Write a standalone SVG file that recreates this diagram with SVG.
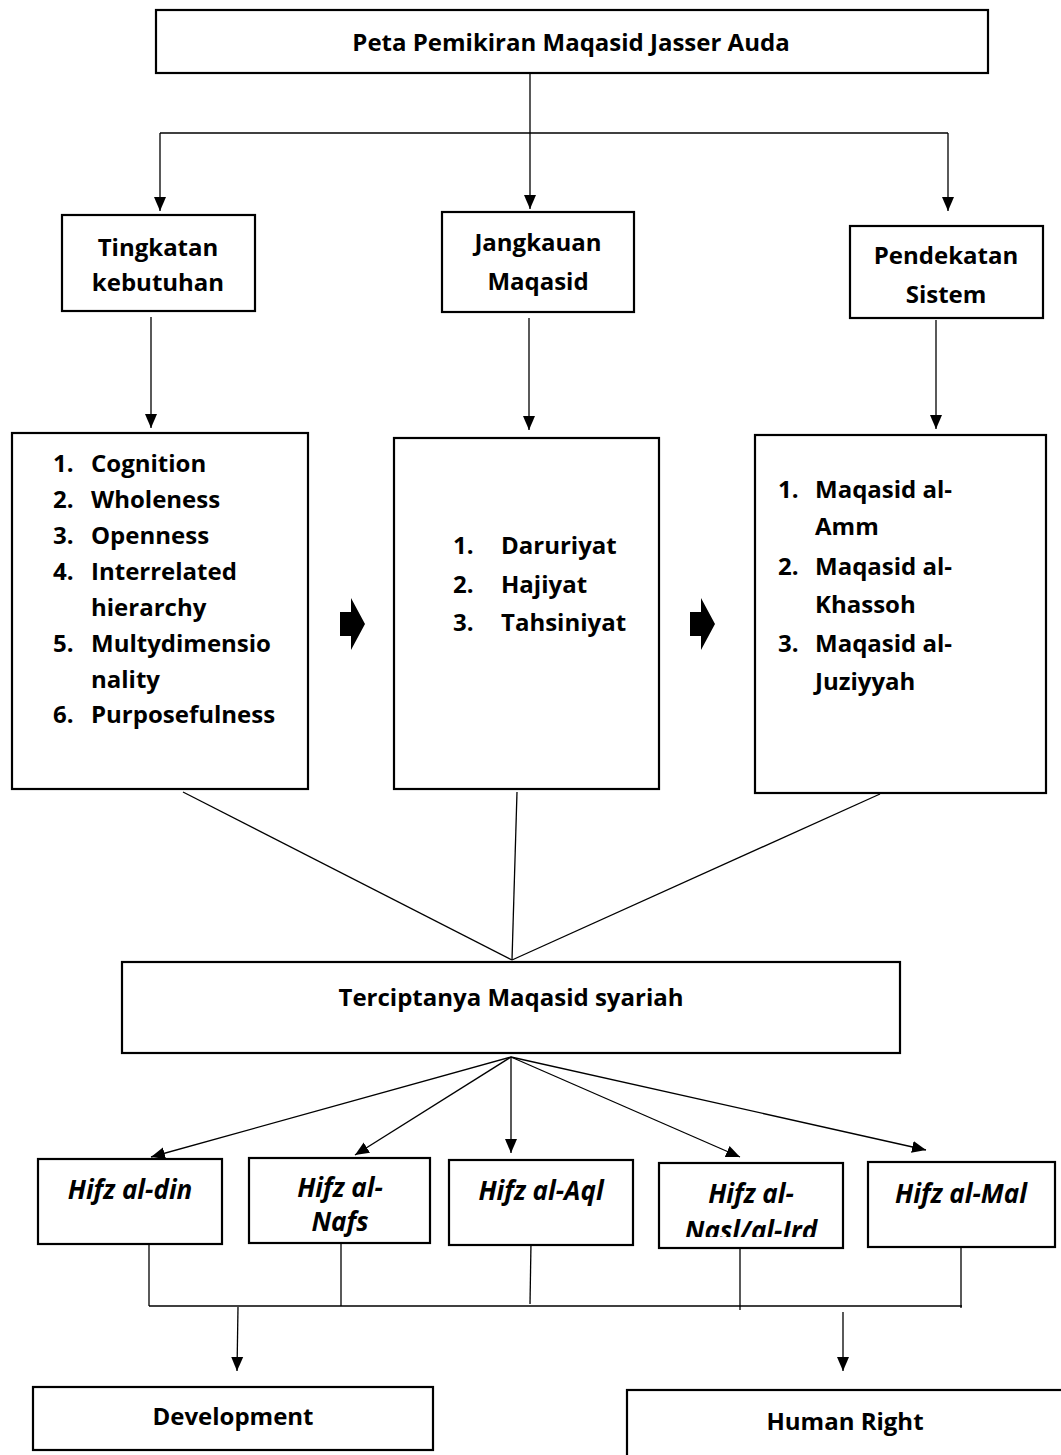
<svg xmlns="http://www.w3.org/2000/svg" width="1061" height="1455" viewBox="0 0 1061 1455">
<style>
.box{fill:#fff;stroke:#000;stroke-width:2.2}
.ln{stroke:#000;stroke-width:1.3;fill:none}
.t{font-family:"Open Sans","Liberation Sans",sans-serif;font-weight:bold;font-size:24px;fill:#000}
.c{text-anchor:middle}
.i{font-style:italic;font-size:26px}
</style>
<defs>
<marker id="ah" markerUnits="userSpaceOnUse" markerWidth="14" markerHeight="14" viewBox="0 0 14 14" refX="14" refY="7" orient="auto">
<path d="M0,1 L14,7 L0,13 Z" fill="#000"/>
</marker>
<clipPath id="cp"><rect x="659" y="1163" width="184" height="74"/></clipPath>
</defs>
<g id="connectors">
<polyline class="ln" points="530,73 530,133"/>
<polyline class="ln" points="160,133 948,133"/>
<line class="ln" x1="160" y1="133" x2="160" y2="211" marker-end="url(#ah)"/>
<line class="ln" x1="530" y1="133" x2="530" y2="209" marker-end="url(#ah)"/>
<line class="ln" x1="948" y1="133" x2="948" y2="211" marker-end="url(#ah)"/>
<line class="ln" x1="151" y1="317" x2="151" y2="428" marker-end="url(#ah)"/>
<line class="ln" x1="529" y1="318" x2="529" y2="430" marker-end="url(#ah)"/>
<line class="ln" x1="936" y1="320" x2="936" y2="429" marker-end="url(#ah)"/>
<path d="M340,612 H351 V598 L365,624 L351,650 V636 H340 Z" fill="#000"/>
<path d="M690,612 H701 V598 L715,624 L701,650 V636 H690 Z" fill="#000"/>
<line class="ln" x1="183" y1="792" x2="512" y2="960"/>
<line class="ln" x1="517" y1="792" x2="512" y2="960"/>
<line class="ln" x1="880" y1="794" x2="512" y2="960"/>
<line class="ln" x1="511" y1="1057" x2="151" y2="1157" marker-end="url(#ah)"/>
<line class="ln" x1="511" y1="1057" x2="355" y2="1155" marker-end="url(#ah)"/>
<line class="ln" x1="511" y1="1057" x2="511" y2="1153" marker-end="url(#ah)"/>
<line class="ln" x1="511" y1="1057" x2="740" y2="1157" marker-end="url(#ah)"/>
<line class="ln" x1="511" y1="1057" x2="926" y2="1150" marker-end="url(#ah)"/>
<line class="ln" x1="149" y1="1244" x2="149" y2="1306"/>
<line class="ln" x1="341" y1="1243" x2="341" y2="1306"/>
<line class="ln" x1="531" y1="1243" x2="530" y2="1304"/>
<line class="ln" x1="740" y1="1248" x2="740" y2="1310"/>
<line class="ln" x1="961" y1="1247" x2="961" y2="1308"/>
<line class="ln" x1="149" y1="1306" x2="962" y2="1306"/>
<line class="ln" x1="238" y1="1307" x2="237" y2="1371" marker-end="url(#ah)"/>
<line class="ln" x1="843" y1="1312" x2="843" y2="1371" marker-end="url(#ah)"/>
</g>
<g id="n-top"><rect class="box" x="156" y="10" width="832" height="63"/><text class="t c" x="571" y="51">Peta Pemikiran Maqasid Jasser Auda</text></g>
<g id="n-tingkatan"><rect class="box" x="62" y="215" width="193" height="96"/><text class="t c" x="158" y="256">Tingkatan</text><text class="t c" x="158" y="291">kebutuhan</text></g>
<g id="n-jangkauan"><rect class="box" x="442" y="212" width="192" height="100"/><text class="t c" x="538" y="251">Jangkauan</text><text class="t c" x="538" y="290">Maqasid</text></g>
<g id="n-pendekatan"><rect class="box" x="850" y="226" width="193" height="92"/><text class="t c" x="946" y="264">Pendekatan</text><text class="t c" x="946" y="303">Sistem</text></g>
<g id="n-list1"><rect class="box" x="12" y="433" width="296" height="356"/>
<text class="t" x="53" y="472">1.</text><text class="t" x="91" y="472">Cognition</text>
<text class="t" x="53" y="508">2.</text><text class="t" x="91" y="508">Wholeness</text>
<text class="t" x="53" y="544">3.</text><text class="t" x="91" y="544">Openness</text>
<text class="t" x="53" y="580">4.</text><text class="t" x="91" y="580">Interrelated</text>
<text class="t" x="91" y="616">hierarchy</text>
<text class="t" x="53" y="652">5.</text><text class="t" x="91" y="652">Multydimensio</text>
<text class="t" x="91" y="688">nality</text>
<text class="t" x="53" y="723">6.</text><text class="t" x="91" y="723">Purposefulness</text>
</g>
<g id="n-list2"><rect class="box" x="394" y="438" width="265" height="351"/>
<text class="t" x="453" y="554">1.</text><text class="t" x="501" y="554">Daruriyat</text>
<text class="t" x="453" y="593">2.</text><text class="t" x="501" y="593">Hajiyat</text>
<text class="t" x="453" y="631">3.</text><text class="t" x="501" y="631">Tahsiniyat</text>
</g>
<g id="n-list3"><rect class="box" x="755" y="435" width="291" height="358"/>
<text class="t" x="778" y="498">1.</text><text class="t" x="815" y="498">Maqasid al-</text>
<text class="t" x="815" y="535">Amm</text>
<text class="t" x="778" y="575">2.</text><text class="t" x="815" y="575">Maqasid al-</text>
<text class="t" x="815" y="613">Khassoh</text>
<text class="t" x="778" y="652">3.</text><text class="t" x="815" y="652">Maqasid al-</text>
<text class="t" x="815" y="690">Juziyyah</text>
</g>
<g id="n-terciptanya"><rect class="box" x="122" y="962" width="778" height="91"/><text class="t c" x="511" y="1006">Terciptanya Maqasid syariah</text></g>
<g id="n-din"><rect class="box" x="38" y="1159" width="184" height="85"/><text class="t c i" x="130" y="1199">Hifz al-din</text></g>
<g id="n-nafs"><rect class="box" x="249" y="1158" width="181" height="85"/><text class="t c i" x="340" y="1197">Hifz al-</text><text class="t c i" x="340" y="1231">Nafs</text></g>
<g id="n-aql"><rect class="box" x="449" y="1160" width="184" height="85"/><text class="t c i" x="541" y="1200">Hifz al-Aql</text></g>
<g id="n-nasl"><rect class="box" x="659" y="1163" width="184" height="85"/><text class="t c i" x="751" y="1203">Hifz al-</text><text class="t c i" x="751" y="1240" clip-path="url(#cp)">Nasl/al-Ird</text></g>
<g id="n-mal"><rect class="box" x="868" y="1162" width="187" height="85"/><text class="t c i" x="961" y="1203">Hifz al-Mal</text></g>
<g id="n-development"><rect class="box" x="33" y="1387" width="400" height="63"/><text class="t c" x="233" y="1425">Development</text></g>
<g id="n-human"><rect class="box" x="627" y="1390" width="440" height="70"/><text class="t c" x="845" y="1430">Human Right</text></g>
</svg>
